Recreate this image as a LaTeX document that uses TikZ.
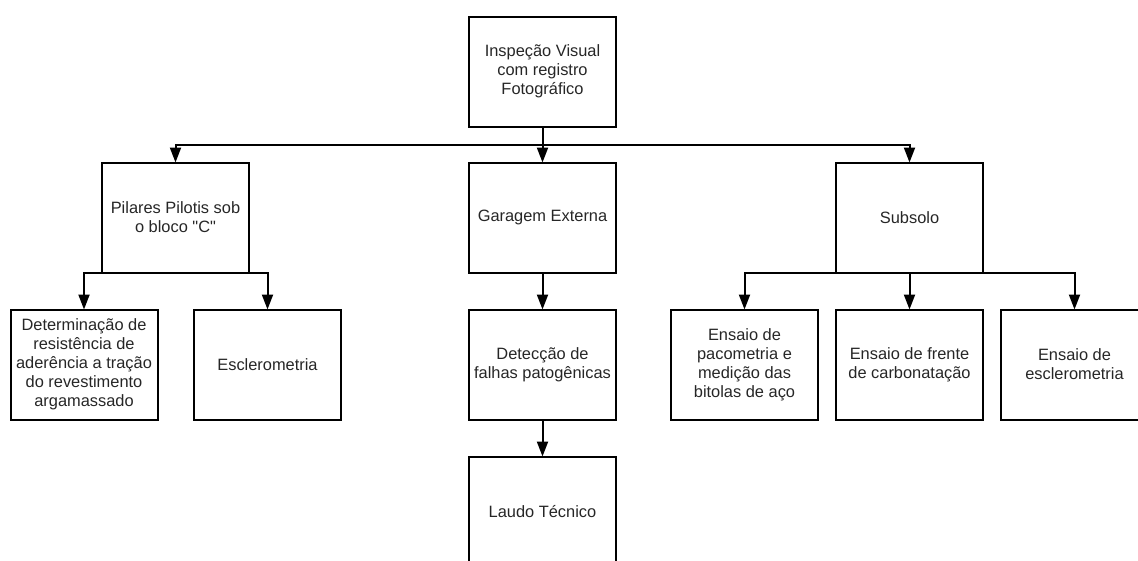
\documentclass[tikz,border=0pt]{standalone}
\usepackage{fontspec}
\setmainfont{Liberation Sans}
\usetikzlibrary{positioning,arrows.meta,calc}
\begin{document}
\begin{tikzpicture}[x=1pt, y=1pt, node distance={37pt}, box/.style = {draw, rectangle, line width=2pt, minimum width=147pt, minimum height=110pt, outer sep=0pt, inner sep=2pt, align=center, text=black!85, font=\fontsize{16.4}{19}\selectfont}]
                \tikzstyle{arw} = [line width=2pt, -{Triangle[width=11pt,length=15pt]}]
                    \clip (0,0) rectangle (1138,-560);
                    \node[box] (insp) at (542.5,-71.5) {Inspeção Visual\\com registro\\Fotográfico};
                    \node[box] (gar) [below=36pt of insp] {Garagem Externa};
                    \node[box] (pil) [left=220pt of gar] {Pilares Pilotis sob\\o bloco \textquotedbl C\textquotedbl};
                    \node[box] (sub) [right=220pt of gar] {Subsolo};
                    \node[box] (det) [below=37pt of pil, xshift=-91.5pt] {Determinação de\\resistência de\\aderência a tração\\do revestimento\\argamassado};
                    \node[box] (escl) [below=37pt of pil, xshift=92pt] {Esclerometria};
                    \node[box] (detc) [below=37pt of gar] {Detecção de\\falhas patogênicas};
                    \node[box] (laudo) [below=37pt of detc] {Laudo Técnico};
                    \node[box] (fre) [below=37pt of sub] {Ensaio de frente\\de carbonatação};
                    \node[box] (pac) [left=18pt of fre] {Ensaio de\\pacometria e\\medição das\\bitolas de aço};
                    \node[box] (esc) [right=18pt of fre] {Ensaio de\\esclerometria};
                    \coordinate (j) at ($(insp.south)!0.5!(gar.north)$);

                    \draw[arw] (insp.south) -- (j) -| (pil.north);
                    \draw[arw] (insp.south) -- (gar.north);
                    \draw[arw] (insp.south) -- (j) -| (sub.north);
                    \draw[arw] (pil.south) -| (det.north);
                    \draw[arw] (pil.south) -| (escl.north);
                    \draw[arw] (gar) to (detc);
                    \draw[arw] (detc) to (laudo);
                    \draw[arw] (sub.south) -| (pac.north);
                    \draw[arw] (sub) to (fre);
                    \draw[arw] (sub.south) -| (esc.north);

                \end{tikzpicture}
\end{document}
